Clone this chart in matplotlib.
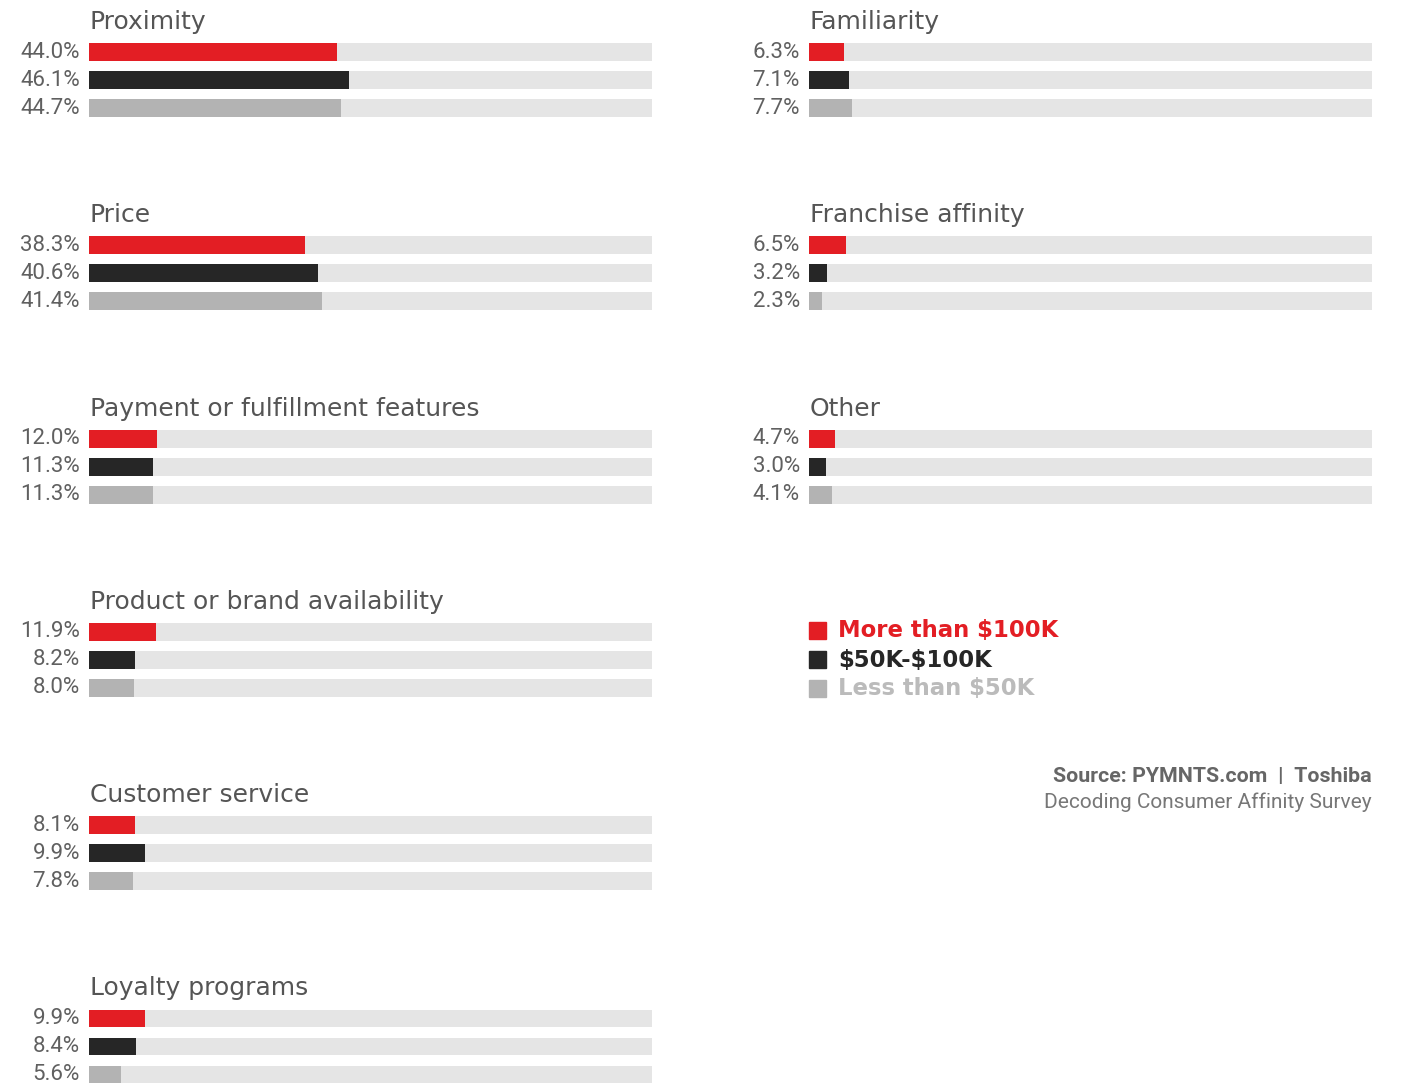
import matplotlib.pyplot as plt
from matplotlib.patches import Rectangle

W, H = 1411, 1083

series = [r"More than \$100K", r"\$50K-\$100K", r"Less than \$50K"]
colors = ["#E31E24", "#262626", "#B3B3B3"]
track_color = "#E5E5E5"

left_titles = ["Proximity", "Price", "Payment or fulfillment features",
               "Product or brand availability", "Customer service", "Loyalty programs"]
left_values = [[44.0, 46.1, 44.7],
               [38.3, 40.6, 41.4],
               [12.0, 11.3, 11.3],
               [11.9, 8.2, 8.0],
               [8.1, 9.9, 7.8],
               [9.9, 8.4, 5.6]]

right_titles = ["Familiarity", "Franchise affinity", "Other"]
right_values = [[6.3, 7.1, 7.7],
                [6.5, 3.2, 2.3],
                [4.7, 3.0, 4.1]]

label_font = ["Roboto", "DejaVu Sans"]
title_font = ["DejaVu Sans"]

fig = plt.figure(figsize=(W / 100, H / 100), dpi=100)
fig.patch.set_facecolor("white")


def px_axes(x0, y0, w, h):
    # pixel box (top-left origin) -> figure fraction axes
    return fig.add_axes([x0 / W, 1 - (y0 + h) / H, w / W, h / H])


def panel(x0, title_y, title, values):
    # bars span 3 rows of 28 px, first centred 31 px under the title
    ax = px_axes(x0, title_y + 17, 563, 84)
    ax.set_xlim(0, 100)
    ax.set_ylim(2.5, -0.5)
    ax.axis("off")
    rows = range(len(values))
    ax.barh(rows, [100] * len(values), height=0.64, color=track_color, zorder=1)
    ax.barh(rows, values, height=0.64, color=colors, zorder=2)
    for i, v in enumerate(values):
        ax.text(-0.016, i, f"{v:.1f}%", transform=ax.get_yaxis_transform(),
                ha="right", va="center", fontsize=16, color="#606060",
                family=label_font)
    fig.text((x0 + 1) / W, 1 - (title_y + 1) / H, title, ha="left", va="center",
             fontsize=18, color="#555555", family=title_font)


for k, (t, v) in enumerate(zip(left_titles, left_values)):
    panel(89, 21 + k * 193.3, t, v)

for k, (t, v) in enumerate(zip(right_titles, right_values)):
    panel(809, 21 + k * 193.3, t, v)

# legend
for i, (name, c) in enumerate(zip(series, colors)):
    yc = 630 + i * 29
    fig.patches.append(Rectangle((809 / W, 1 - (yc + 8.5) / H), 17 / W, 17 / H,
                                 transform=fig.transFigure, color=c))
    fig.text(838 / W, 1 - (yc + 1) / H, name, ha="left", va="center", fontsize=16.4,
             fontweight="bold", color=c if i < 2 else "#BBBBBB",
             family=["DejaVu Sans"])

fig.text(1372 / W, 1 - 777 / H, "Source: PYMNTS.com  |  Toshiba", ha="right",
         va="center", fontsize=15.4, fontweight="bold", color="#666666",
         family=["Roboto", "DejaVu Sans"])
fig.text(1372 / W, 1 - 802 / H, "Decoding Consumer Affinity Survey", ha="right",
         va="center", fontsize=15, color="#777777", family=["Roboto", "DejaVu Sans"])

fig.savefig("out.png", dpi=100)
